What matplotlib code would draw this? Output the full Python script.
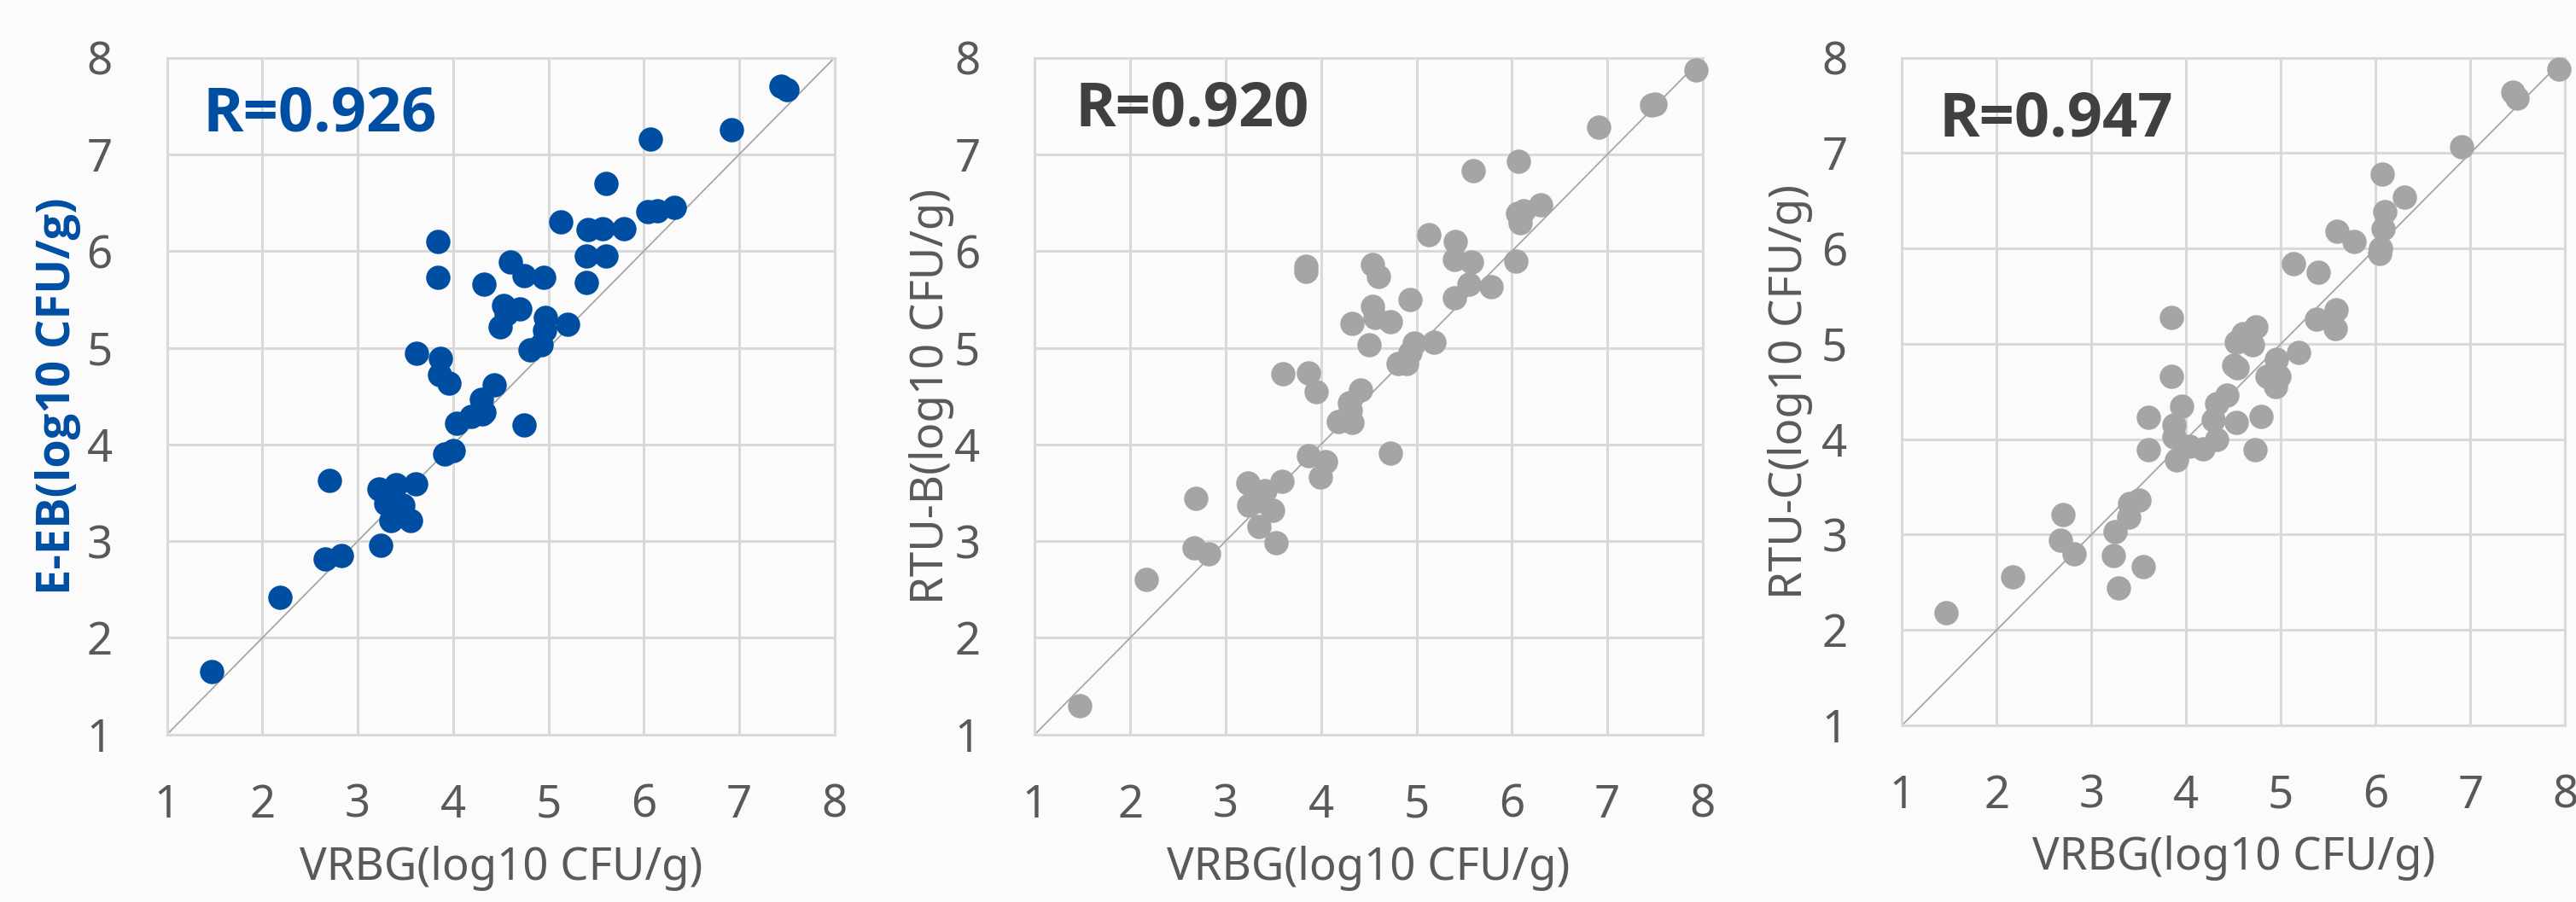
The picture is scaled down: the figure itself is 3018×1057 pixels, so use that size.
# три диаграммы рассеяния: VRBG против E-EB, RTU-B, RTU-C

import matplotlib
matplotlib.use('Agg')
import matplotlib.pyplot as plt

plt.rcParams['font.family'] = ['Noto Sans', 'DejaVu Sans']
BOLD_FONT = ['Open Sans', 'DejaVu Sans']  # у Noto Sans нет жирного начертания

# данные
vrbg_eeb = [1.47, 2.18, 2.70, 2.66, 2.83, 3.24, 3.22, 3.40, 3.29, 3.35, 3.47, 3.55, 3.61,
            3.62, 3.84, 3.84, 3.87, 3.86, 3.96, 3.91, 4.00, 4.04, 4.19, 4.32, 4.30, 4.31,
            4.43, 4.32, 4.60, 4.53, 4.56, 4.49, 4.70, 4.74, 4.95, 4.74, 4.81, 4.92, 4.96,
            4.97, 5.20, 5.13, 5.40, 5.40, 5.42, 5.57, 5.60, 5.60, 5.79, 6.04, 6.14, 6.32,
            6.07, 6.92, 7.44, 7.50]
eeb = [1.65, 2.42, 3.63, 2.82, 2.85, 2.96, 3.54, 3.58, 3.39, 3.21, 3.37, 3.21, 3.59,
       4.94, 6.10, 5.73, 4.89, 4.72, 4.63, 3.90, 3.94, 4.22, 4.29, 4.33, 4.47, 4.32,
       4.62, 5.66, 5.89, 5.44, 5.35, 5.22, 5.40, 5.75, 5.73, 4.20, 4.98, 5.03, 5.18,
       5.31, 5.24, 6.30, 5.68, 5.95, 6.22, 6.23, 5.95, 6.70, 6.23, 6.41, 6.42, 6.45,
       7.16, 7.26, 7.71, 7.67]

vrbg_rtub = [1.47, 2.17, 2.69, 2.67, 2.82, 3.23, 3.41, 3.24, 3.38, 3.49, 3.35, 3.53, 3.59,
             3.60, 3.84, 3.84, 3.87, 3.95, 3.87, 4.05, 3.99, 4.18, 4.32, 4.30, 4.31, 4.41,
             4.32, 4.54, 4.60, 4.54, 4.57, 4.73, 4.50, 4.73, 4.93, 4.81, 4.90, 4.93, 4.98,
             5.18, 5.13, 5.41, 5.40, 5.58, 5.40, 5.55, 5.78, 5.59, 6.04, 6.06, 6.12, 6.09,
             6.30, 6.07, 6.91, 7.46, 7.50, 7.93]
rtub = [1.30, 2.60, 3.44, 2.93, 2.87, 3.60, 3.52, 3.37, 3.42, 3.32, 3.15, 2.98, 3.62,
        4.73, 5.84, 5.79, 4.74, 4.55, 3.88, 3.82, 3.66, 4.24, 4.23, 4.43, 4.35, 4.56,
        5.25, 5.86, 5.74, 5.43, 5.31, 5.27, 5.03, 3.91, 5.50, 4.84, 4.84, 4.95, 5.05,
        5.06, 6.17, 6.10, 5.91, 5.89, 5.52, 5.66, 5.63, 6.83, 5.90, 6.39, 6.42, 6.29,
        6.48, 6.93, 7.28, 7.51, 7.52, 7.87]

vrbg_rtuc = [1.47, 2.17, 2.70, 2.67, 2.82, 3.23, 3.29, 3.25, 3.39, 3.40, 3.50, 3.55, 3.60,
             3.60, 3.84, 3.84, 3.87, 3.87, 3.90, 3.95, 4.03, 4.18, 4.32, 4.29, 4.32, 4.43,
             4.53, 4.50, 4.54, 4.53, 4.60, 4.70, 4.74, 4.79, 4.73, 4.85, 4.95, 4.98, 4.94,
             5.19, 5.13, 5.39, 5.38, 5.58, 5.57, 5.59, 5.77, 6.04, 6.05, 6.08, 6.10, 6.07,
             6.30, 6.91, 7.45, 7.49, 7.93]
rtuc = [2.18, 2.56, 3.21, 2.94, 2.80, 2.78, 2.44, 3.03, 3.18, 3.33, 3.36, 2.66, 4.23,
        3.89, 5.28, 4.66, 4.15, 4.02, 3.78, 4.35, 3.93, 3.90, 4.00, 4.20, 4.37, 4.46,
        4.18, 4.78, 4.75, 5.02, 5.11, 4.99, 5.18, 4.24, 3.89, 4.66, 4.84, 4.66, 4.55,
        4.91, 5.84, 5.75, 5.26, 5.36, 5.16, 6.18, 6.07, 5.95, 6.00, 6.21, 6.39, 6.78,
        6.54, 7.07, 7.64, 7.58, 7.88]

r_labels = ['R=0.926', 'R=0.920', 'R=0.947']
y_labels = ['E-EB(log10 CFU/g)', 'RTU-B(log10 CFU/g)', 'RTU-C(log10 CFU/g)']
x_label = 'VRBG(log10 CFU/g)'
ticks = [1, 2, 3, 4, 5, 6, 7, 8]

BLUE = '#004EA2'
GRAY = '#A5A5A5'
TXT = '#595959'
GRID = '#D9D9D9'

W, H = 3018, 1057
fig = plt.figure(figsize=(W / 100, H / 100), dpi=100, facecolor='#FBFBFB')

# положение осей в пикселях: left, right, top, bottom
boxes = [(195.7, 977.7, 67.7, 860.7),
         (1212.3, 1995.0, 67.7, 860.7),
         (2228.3, 3005.3, 67.7, 850.0)]

panels = [(vrbg_eeb, eeb, BLUE), (vrbg_rtub, rtub, GRAY), (vrbg_rtuc, rtuc, GRAY)]
r_pos = [(238, 153), (1260, 148), (2271, 159)]
ylab_x = [68, 1091, 2098]
xlab_y = [1018, 1018, 1005]

for i, (xs, ys, col) in enumerate(panels):
    l, r, t, b = boxes[i]
    ax = fig.add_axes([l / W, 1 - b / H, (r - l) / W, (b - t) / H])
    ax.set_facecolor('#FBFBFB')
    ax.set_xlim(1, 8)
    ax.set_ylim(1, 8)
    ax.set_xticks(ticks)
    ax.set_yticks(ticks)
    ax.grid(True, color=GRID, linewidth=2.2, zorder=0)
    ax.set_axisbelow(True)
    for s in ax.spines.values():
        s.set_color(GRID)
        s.set_linewidth(2.2)
    ax.tick_params(length=0, labelsize=38, colors=TXT)
    ax.tick_params(axis='y', pad=46)
    ax.tick_params(axis='x', pad=41)

    # линия y = x
    ax.plot([1, 8], [1, 8], color='#A6A6A6', linewidth=1.3, zorder=2)
    ax.plot(xs, ys, 'o', color=col, markersize=20.5, markeredgewidth=0, zorder=3,
            clip_on=False)

    # подписи осей
    ax.set_xlabel(x_label, fontsize=38, color=TXT, va='center')
    ax.xaxis.set_label_coords(0.5, (b - xlab_y[i]) / (b - t))
    if i == 0:
        ax.set_ylabel(y_labels[i], fontsize=39, color=BLUE, fontweight='bold',
                      family=BOLD_FONT, va='center')
    else:
        ax.set_ylabel(y_labels[i], fontsize=38, color=TXT, va='center')
    ax.yaxis.set_label_coords((ylab_x[i] - l) / (r - l), 0.5)

    # коэффициент корреляции
    rx, ry = r_pos[i]
    ax.text((rx - l) / (r - l), (b - ry) / (b - t), r_labels[i],
            transform=ax.transAxes, fontsize=52, fontweight='bold', family=BOLD_FONT,
            color=BLUE if i == 0 else '#404040', ha='left', va='baseline')

fig.savefig('out.png', dpi=100, facecolor=fig.get_facecolor())
